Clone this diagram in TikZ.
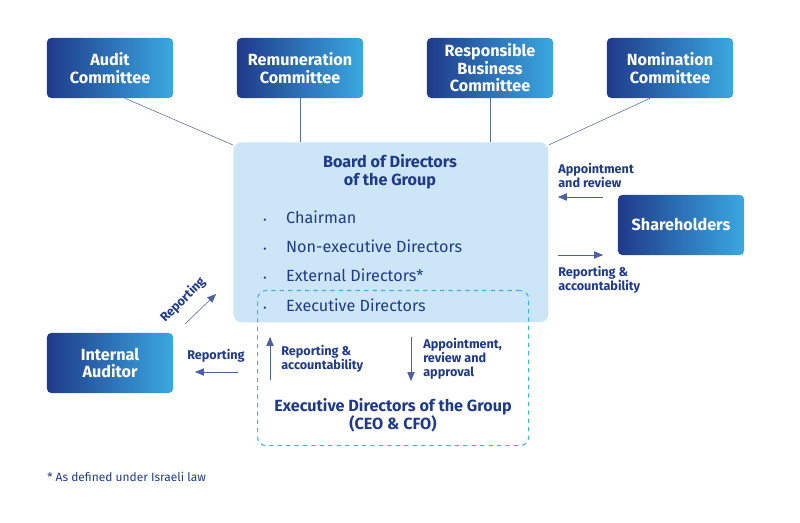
\documentclass[tikz,border=0pt]{standalone}
\usepackage{fontspec}
\setmainfont{Fira Sans}
\usetikzlibrary{positioning,calc,arrows}
\definecolor{navy}{HTML}{1F3A8A}
\definecolor{sky}{HTML}{3AA8E0}
\definecolor{pale}{HTML}{CDE6F7}
\definecolor{cyanline}{HTML}{3AB4E6}
\definecolor{greyline}{HTML}{5A6A9A}
\tikzset{%
	block/.style = {rectangle, rounded corners=3pt, left color=navy, right color=sky,
		text=white, font=\bfseries\fontsize{11.5}{12.5}\selectfont, align=center,
		minimum width=3.15cm, minimum height=1.5cm, inner sep=1pt},
	lbl/.style = {text=navy, font=\bfseries\fontsize{9}{10}\selectfont, align=left, inner sep=0pt},
	item/.style = {text=navy, font=\fontsize{11.5}{12}\selectfont, anchor=west, inner sep=0pt},
	link/.style = {draw=greyline, thin},
	flow/.style = {draw=navy!80, thin, -triangle 45}
}
\newcommand{\dotitem}{{\fontsize{7}{7}\selectfont\textbullet}\hspace{14pt}}
\begin{document}
\begin{tikzpicture}[x=0.025cm, y=-0.025cm]
	\useasboundingbox (0,0) rectangle (800,523);
	% board
	\node[fill=pale, rounded corners=6pt, minimum width=7.875cm, minimum height=4.5cm, anchor=north west] (board) at (233,142) {};
	\node[text=navy, font=\bfseries\fontsize{11.5}{13}\selectfont, align=center] (boardtitle) at (390,172) {Board of Directors\\of the Group};
	\node[item] (chair) at (263,217) {\dotitem Chairman};
	\node[item] (nonexec) at (263,246) {\dotitem Non-executive Directors};
	\node[item] (extern) at (263,275) {\dotitem External Directors*};
	\node[item] (exec) at (263,305) {\dotitem Executive Directors};
	% executive box
	\node[draw=cyanline, dashed, thick, rounded corners=6pt, minimum width=6.775cm, minimum height=3.875cm, anchor=north west] (execbox) at (257,290) {};
	\node[text=navy, font=\bfseries\fontsize{11.5}{13}\selectfont, align=center] (exectitle) at (393,415) {Executive Directors of the Group\\(CEO \& CFO)};
	% committees
	\node[block] (audit) at (110,68) {Audit\\Committee};
	\node[block] (remun) at (300,68) {Remuneration\\Committee};
	\node[block] (resp) at (490,68) {Responsible\\Business\\Committee};
	\node[block] (nomin) at (670,68) {Nomination\\Committee};
	\node[block] (share) at (681,225) {Shareholders};
	\node[block] (auditor) at (110,363) {Internal\\Auditor};
	% committee links
	\draw[link] ($(audit.south)+(15,0)$) -- ($(board.north west)+(0,3)$);
	\draw[link] (remun.south) -- (remun.south |- board.north);
	\draw[link] (resp.south) -- (resp.south |- board.north);
	\draw[link] ($(nomin.south)+(-20,0)$) -- ($(board.north east)+(0,3)$);
	% shareholders
	\coordinate (appA) at (603,197); \coordinate (appB) at (558,197);
	\coordinate (repA) at (558,255); \coordinate (repB) at (603,255);
	\draw[flow] (appA) -- (appB);
	\draw[flow] (repA) -- (repB);
	\node[lbl, anchor=south west] (applbl) at (558,188) {Appointment\\and review};
	\node[lbl, anchor=north west] (replbl) at (558,266) {Reporting \&\\accountability};
	% internal auditor
	\coordinate (diagA) at (185,324); \coordinate (diagB) at (216,294);
	\draw[flow] (diagA) -- (diagB);
	\node[lbl, rotate=45] (diaglbl) at (183,300) {Reporting};
	\coordinate (leftA) at (238,372); \coordinate (leftB) at (195,372);
	\draw[flow] (leftA) -- (leftB);
	\node[lbl] (leftlbl) at (216,356) {Reporting};
	% executive arrows
	\coordinate (upA) at (270,380); \coordinate (upB) at (270,337);
	\coordinate (dnA) at (411,337); \coordinate (dnB) at (411,381);
	\draw[flow] (upA) -- (upB);
	\draw[flow] (dnA) -- (dnB);
	\node[lbl, anchor=west] (uplbl) at (281,359) {Reporting \&\\accountability};
	\node[lbl, anchor=west] (dnlbl) at (423,359) {Appointment,\\review and\\approval};
	% footnote
	\node[text=navy, font=\fontsize{8.5}{9}\selectfont, anchor=west, inner sep=0pt] (note) at (47,477) {* As defined under Israeli law};
\end{tikzpicture}
\end{document}
